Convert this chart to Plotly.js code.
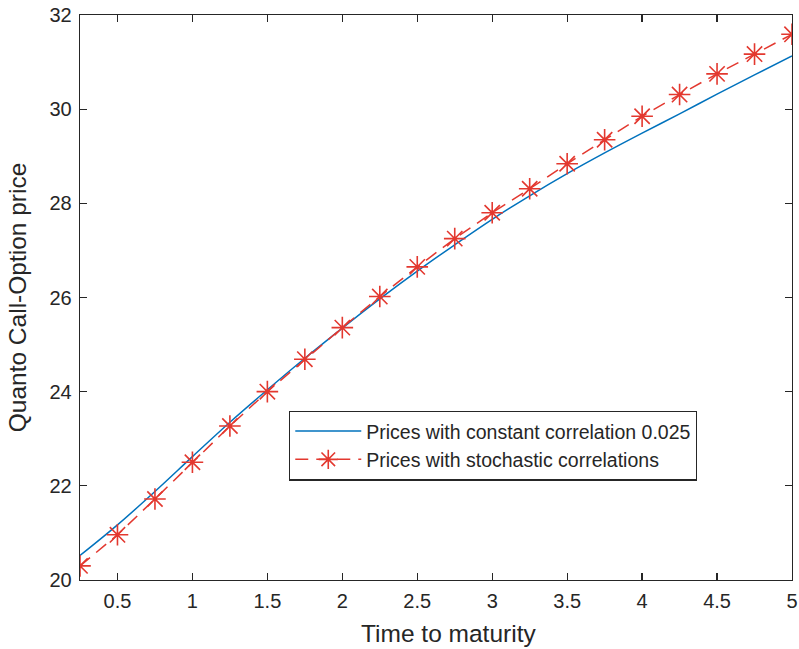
<!DOCTYPE html>
<html>
<head>
<meta charset="utf-8">
<script src="https://cdn.plot.ly/plotly-3.0.1.min.js"></script>
<style>html,body{margin:0;padding:0;background:#fff;}#chart{width:799px;height:649px;}</style>
</head>
<body>
<div id="chart"></div>
<script>
const maturity = [0.25,0.5,0.75,1,1.25,1.5,1.75,2,2.25,2.5,2.75,3,3.25,3.5,3.75,4,4.25,4.5,4.75,5];
const constantPrices = [20.52,21.17,21.88,22.62,23.35,24.04,24.71,25.35,25.97,26.56,27.12,27.66,28.16,28.63,29.07,29.49,29.90,30.32,30.73,31.13];
const stochasticPrices = [20.30,20.96,21.72,22.50,23.27,24.00,24.69,25.36,26.02,26.65,27.25,27.80,28.31,28.84,29.35,29.85,30.31,30.75,31.17,31.59];
const xTicks = [0.5,1,1.5,2,2.5,3,3.5,4,4.5,5];
const yTicks = [20,22,24,26,28,30,32];
const xTitle = 'Time to maturity';
const yTitle = 'Quanto Call-Option price';

const FONT = 'Liberation Sans, Arial, sans-serif';
const INK = '#262626';

const traces = [
  {x: maturity, y: constantPrices, mode: 'lines', name: 'Prices with constant correlation 0.025',
   line: {color: '#0072BD', width: 1.5, shape: 'spline'}},
  {x: maturity, y: stochasticPrices, mode: 'lines+markers', name: 'Prices with stochastic correlations',
   line: {color: '#e3382f', width: 1.5, dash: '13px,8px'},
   marker: {symbol: 'asterisk-open', size: 18, color: '#e3382f', line: {color: '#e3382f', width: 1.6}}}
];

const axisCommon = {
  showline: true, linecolor: INK, linewidth: 1.3, mirror: 'ticks',
  ticks: 'inside', ticklen: 7, tickcolor: INK, tickwidth: 1.3,
  showgrid: false, zeroline: false, ticklabelstandoff: 3,
  tickfont: {family: FONT, size: 20, color: INK}
};

const layout = {
  width: 799, height: 649,
  margin: {l: 80, r: 7, t: 15, b: 69},
  paper_bgcolor: '#fff', plot_bgcolor: '#fff',
  showlegend: true,
  xaxis: Object.assign({}, axisCommon, {
    range: [0.25, 5], tickvals: xTicks, ticktext: xTicks.map(String)
  }),
  yaxis: Object.assign({}, axisCommon, {
    range: [20, 32], tickvals: yTicks, ticktext: yTicks.map(String),
    title: {text: yTitle, font: {family: FONT, size: 24.5, color: INK}, standoff: 16}
  }),
  annotations: [{
    text: xTitle, xref: 'paper', yref: 'paper', x: 0.518, y: -0.0950,
    xanchor: 'center', yanchor: 'middle', showarrow: false,
    font: {family: FONT, size: 24.5, color: INK}
  }],
  legend: {
    x: 0.2935, y: 0.300, xanchor: 'left', yanchor: 'top',
    bgcolor: '#fff', bordercolor: INK, borderwidth: 1.3,
    font: {family: FONT, size: 19.5, color: INK},
    tracegroupgap: 0, itemwidth: 66
  }
};

Plotly.newPlot('chart', traces, layout, {displayModeBar: false, staticPlot: true});
</script>
</body>
</html>
